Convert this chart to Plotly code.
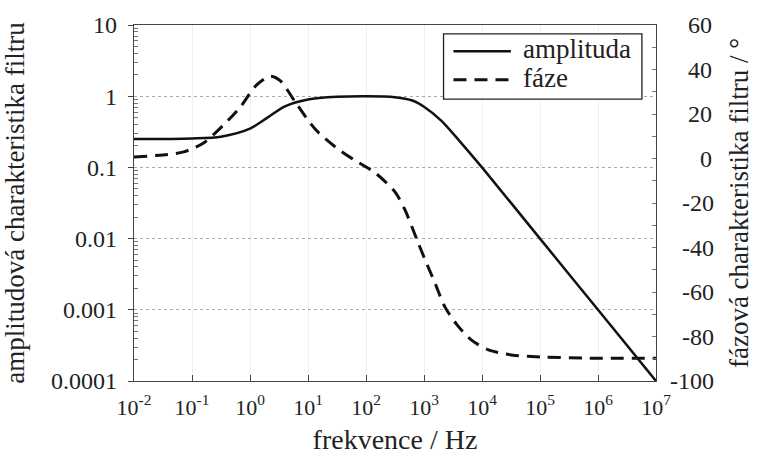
import plotly.graph_objects as go

# ---- data ----
amp_f = [0.01, 0.1, 0.316, 1.0, 2.0, 4.0, 10.0, 31.6, 100.0, 316.0, 631.0, 1000.0, 2000.0, 4000.0, 1e4, 1e5, 1e6, 1e7]
amp_v = [0.25, 0.255, 0.27, 0.35, 0.5, 0.72, 0.9, 0.98, 1.0, 0.97, 0.87, 0.71, 0.45, 0.24, 0.1, 0.01, 0.001, 0.0001]

ph_f = [0.01, 0.0316, 0.072, 0.158, 0.347, 0.676, 1.29, 2.24, 3.31, 6.17, 13.5, 30.2, 66.1, 145.0, 316.0, 468.0, 759.0, 1047.0, 1549.0, 2291.0, 3715.0, 6607.0, 12880.0, 32360.0, 104700.0, 575400.0, 1e7]
ph_v = [0.7, 1.6, 3.0, 7.0, 15.0, 23.0, 33.0, 37.0, 35.0, 25.0, 13.0, 5.0, -1.0, -6.5, -15.0, -23.0, -36.6, -45.6, -56.0, -66.7, -74.8, -81.6, -86.0, -88.3, -89.2, -89.7, -89.8]

series_names = ["amplituda", "fáze"]

x_exps = [-2, -1, 0, 1, 2, 3, 4, 5, 6, 7]
y1_vals = [10, 1, 0.1, 0.01, 0.001, 0.0001]
y1_text = ["10", "1", "0.1", "0.01", "0.001", "0.0001"]
y2_vals = [60, 40, 20, 0, -20, -40, -60, -80, -100]

FONT = "Liberation Serif"
INK = "#222"
AMP_LINE = dict(color="#111", width=2.5)
PH_LINE = dict(color="#111", width=3, dash="13px,8px")

def pad(v):
    s = str(v)
    target = "-100"
    w = {"-": 0.333, "\u2007": 0.5, "\u2008": 0.25}
    def width(t):
        return sum(w.get(c, 0.5) for c in t)
    need = width(target) - width(s)
    p = ""
    while need >= 0.5 - 1e-6:
        p += "\u2007"; need -= 0.5
    if need > 0.15:
        p += "\u2008"
    return p + s

def f(size):
    return dict(family=FONT, size=size, color=INK)

fig = go.Figure()
fig.add_trace(go.Scatter(x=amp_f, y=amp_v, name=series_names[0], mode="lines",
                         line=dict(**AMP_LINE, shape="spline", smoothing=0.8)))
fig.add_trace(go.Scatter(x=ph_f, y=ph_v, name=series_names[1], mode="lines", yaxis="y2",
                         line=dict(**PH_LINE, shape="spline", smoothing=0.8)))

# legend box drawn in paper coordinates
LX0, LX1, LY0, LY1 = 0.593, 0.973, 0.792, 0.975
rows_y = [0.926, 0.846]
fig.add_shape(type="rect", xref="paper", yref="paper", x0=LX0, x1=LX1, y0=LY0, y1=LY1,
              line=dict(color="#222", width=1.3), fillcolor="white", layer="above")
for name, yy, ln in zip(series_names, rows_y, [AMP_LINE, PH_LINE]):
    fig.add_shape(type="line", xref="paper", yref="paper", x0=0.612, x1=0.722, y0=yy, y1=yy,
                  line=ln, layer="above")
    fig.add_annotation(xref="paper", yref="paper", x=0.742, y=yy + 0.006, xanchor="left", yanchor="middle",
                       text=name, showarrow=False, font=f(27))

minor_y = [m * 10 ** e for e in range(-4, 1) for m in range(2, 10)]

fig.update_layout(
    width=763, height=466,
    margin=dict(l=130, r=107, t=25, b=85),
    paper_bgcolor="white", plot_bgcolor="white",
    font=f(22),
    showlegend=False,
    xaxis=dict(type="log", range=[-2, 7],
               tickvals=[10 ** e for e in x_exps],
               ticktext=["10<sup>%d</sup>" % e for e in x_exps],
               ticks="inside", ticklen=6, tickcolor="#444",
               showline=True, linecolor="#444", linewidth=1.2, mirror=True,
               showgrid=True, gridcolor="#f0f0f0", gridwidth=1,
               tickfont=f(22), ticklabelstandoff=6,
               title=dict(text="frekvence / Hz", font=f(28), standoff=10),
               zeroline=False),
    yaxis=dict(type="log", range=[-4, 1],
               tickvals=y1_vals, ticktext=y1_text,
               ticks="outside", ticklen=5, tickcolor="#444",
               minor=dict(tickvals=minor_y, ticks="inside", ticklen=4, tickcolor="#777", showgrid=False),
               showline=True, linecolor="#444", linewidth=1.2, mirror=True,
               showgrid=True, gridcolor="#aaa", griddash="dot", gridwidth=1,
               tickfont=f(24), ticklabelstandoff=6,
               title=dict(text="amplitudová charakteristika filtru", font=f(27), standoff=20),
               zeroline=False),
    yaxis2=dict(overlaying="y", side="right", range=[-100, 60],
                tickvals=y2_vals, ticktext=[pad(v) for v in y2_vals],
                ticks="inside", ticklen=4, tickcolor="#777",
                minor=dict(dtick=10, ticks="inside", ticklen=4, tickcolor="#777"),
                showline=True, linecolor="#444", linewidth=1.2,
                showgrid=False, zeroline=False,
                tickfont=f(24), ticklabelstandoff=8,
                title=dict(text="fázová charakteristika filtru / °", font=f(27), standoff=16)),
)

fig.write_html("out.html")
